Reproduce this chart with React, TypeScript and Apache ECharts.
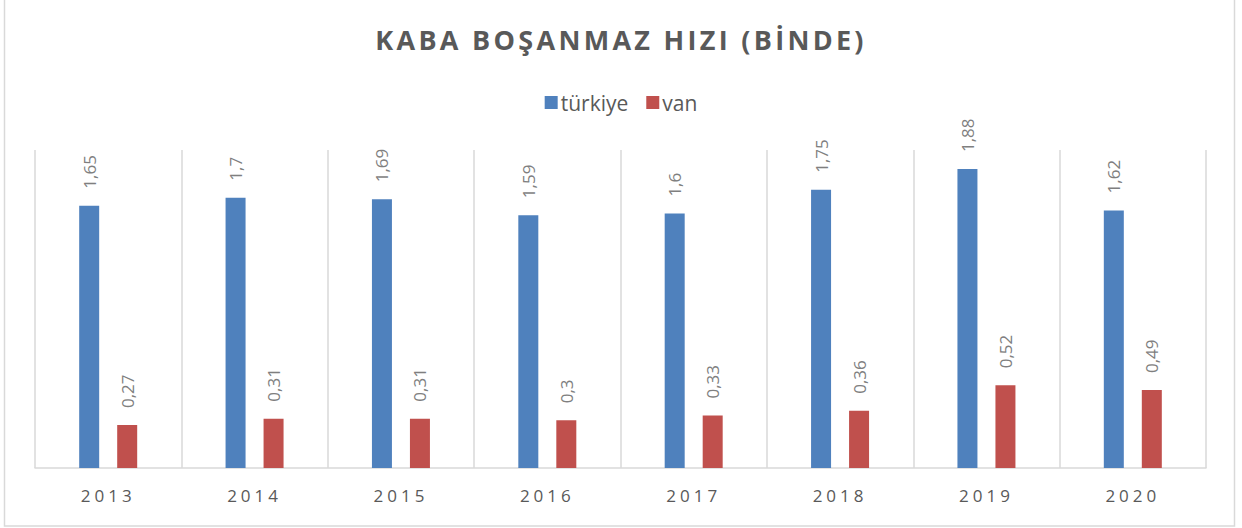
import React, { useEffect, useRef } from "react";
import * as echarts from "echarts";

const years = ["2013", "2014", "2015", "2016", "2017", "2018", "2019", "2020"];
const turkiye = [1.65, 1.7, 1.69, 1.59, 1.6, 1.75, 1.88, 1.62];
const van = [0.27, 0.31, 0.31, 0.3, 0.33, 0.36, 0.52, 0.49];

const FONT = "'Open Sans', 'Noto Sans', sans-serif";
const TITLE_FONT = "'Open Sans', Lato, sans-serif";
const AXIS_FONT = "'Open Sans', Inter, sans-serif";

const css = `
#root svg text[style*="Lato"], #root svg text[font-family*="Lato"] { letter-spacing: 3.3px; }
#root svg text[style*="Inter"], #root svg text[font-family*="Inter"] { letter-spacing: 4px; }
`;

export default function App() {
  const ref = useRef<HTMLDivElement>(null);
  useEffect(() => {
    if (!ref.current) return;
    const chart = echarts.init(ref.current, undefined, { renderer: "svg" });
    const label = {
      show: true,
      position: "top",
      rotate: 90,
      align: "left",
      verticalAlign: "middle",
      distance: 17,
      color: "#7f7f7f",
      fontSize: 17,
      fontFamily: FONT,
      formatter: (p: any) => String(p.value).replace(".", ","),
    };
    chart.setOption({
      animation: false,
      backgroundColor: "#ffffff",
      title: {
        text: "KABA BOŞANMAZ HIZI (BİNDE)",
        left: "center",
        top: 21,
        textStyle: { color: "#595959", fontSize: 27, fontWeight: "bold", fontFamily: TITLE_FONT },
      },
      legend: {
        top: 87,
        left: "center",
        itemWidth: 13,
        itemHeight: 13,
        itemGap: 18,
        icon: "rect",
        textStyle: { color: "#595959", fontSize: 21, fontFamily: FONT, padding: [0, 0, 0, -2] },
      },
      graphic: [
        {
          type: "rect",
          shape: { x: 4.5, y: -2, width: 1230, height: 528 },
          style: { fill: "none", stroke: "#d9d9d9", lineWidth: 1.5 },
          silent: true,
        },
      ],
      grid: { left: 35, right: 36, top: 150, bottom: 60 },
      xAxis: {
        type: "category",
        data: years,
        axisLine: { lineStyle: { color: "#d9d9d9", width: 1.5 } },
        axisTick: { show: false },
        splitLine: { show: true, lineStyle: { color: "#d9d9d9", width: 1.5 } },
        axisLabel: { color: "#595959", fontSize: 17, fontFamily: AXIS_FONT, margin: 19 },
      },
      yAxis: { type: "value", min: 0, max: 2, show: false, splitLine: { show: false } },
      series: [
        {
          name: "türkiye",
          type: "bar",
          data: turkiye,
          barWidth: 20,
          barGap: "90%",
          itemStyle: { color: "#4f81bd" },
          label,
        },
        {
          name: "van",
          type: "bar",
          data: van,
          barWidth: 20,
          itemStyle: { color: "#c0504d" },
          label,
        },
      ],
    });
    return () => chart.dispose();
  }, []);
  return (
    <>
      <style>{css}</style>
      <div
        ref={ref}
        style={{ position: "fixed", left: 0, top: 0, width: 1242, height: 528, background: "#fff" }}
      />
    </>
  );
}
